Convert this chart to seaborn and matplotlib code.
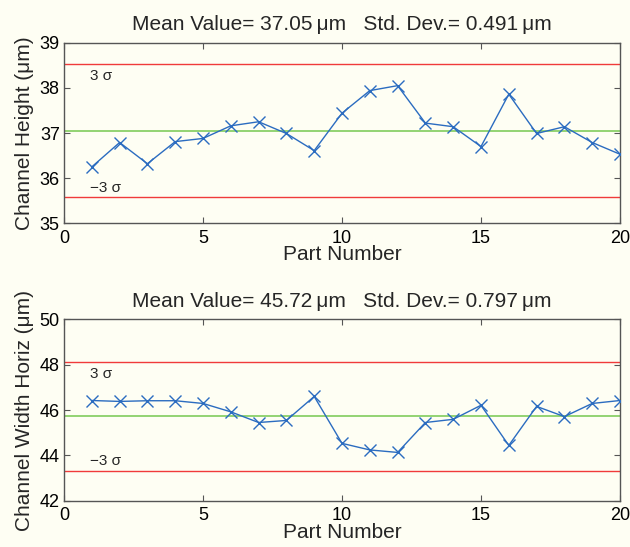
import numpy as np
import pandas as pd
import matplotlib
matplotlib.use('Agg')
import matplotlib.pyplot as plt
import seaborn as sns

# values
parts = list(range(1, 21))
height = [36.25, 36.79, 36.32, 36.81, 36.88, 37.16, 37.25, 36.99, 36.61, 37.44,
          37.94, 38.05, 37.22, 37.14, 36.70, 37.86, 36.99, 37.14, 36.79, 36.53]
width = [46.42, 46.38, 46.41, 46.41, 46.29, 45.92, 45.45, 45.54, 46.60, 44.53,
         44.24, 44.13, 45.45, 45.59, 46.21, 44.44, 46.16, 45.71, 46.29, 46.42]
means = [37.05, 45.72]
stds = [0.491, 0.797]
ylabels = ['Channel Height (\u03bcm)', 'Channel Width Horiz (\u03bcm)']
ylims = [(35, 39), (42, 50)]
yticks = [[35, 36, 37, 38, 39], [42, 44, 46, 48, 50]]
xticks = [0, 5, 10, 15, 20]

BG = '#fefef3'
BLUE = '#2b6cc0'
RED = '#f03a3a'
GREEN = '#80cc5c'

sns.set_theme(style='ticks')
plt.rcParams['font.family'] = ['Liberation Sans', 'DejaVu Sans']
plt.rcParams['axes.edgecolor'] = '#555555'
plt.rcParams['xtick.color'] = '#555555'
plt.rcParams['ytick.color'] = '#555555'
plt.rcParams['xtick.labelcolor'] = 'black'
plt.rcParams['ytick.labelcolor'] = 'black'

fig = plt.figure(figsize=(6.3, 5.47), dpi=100, facecolor=BG)
ax_top = fig.add_axes([0.1016, 0.5918, 0.8825, 0.330])
ax_bot = fig.add_axes([0.1016, 0.0846, 0.8825, 0.3316])

for ax, vals, m, s, lab, lim, yt in zip([ax_top, ax_bot], [height, width], means, stds,
                                         ylabels, ylims, yticks):
    ax.set_facecolor(BG)
    df = pd.DataFrame({'part': parts, 'value': vals})
    upper = m + 3 * s
    lower = m - 3 * s
    ax.axhline(upper, color=RED, lw=1.0, zorder=1)
    ax.axhline(lower, color=RED, lw=1.0, zorder=1)
    ax.axhline(m, color=GREEN, lw=1.2, zorder=1)
    sns.lineplot(data=df, x='part', y='value', ax=ax, color=BLUE, lw=1.0,
                 marker='x', markersize=9, markeredgewidth=1.0,
                 markeredgecolor=BLUE, zorder=3)
    ax.annotate('3 \u03c3', xy=(0.95, upper), xytext=(0, -8.5), textcoords='offset points',
                ha='left', va='center', fontsize=11)
    ax.annotate('\u22123 \u03c3', xy=(0.95, lower), xytext=(0, 7), textcoords='offset points',
                ha='left', va='center', fontsize=11)
    ax.set_xlim(0, 20)
    ax.set_ylim(*lim)
    ax.set_xticks(xticks)
    ax.set_yticks(yt)
    ax.tick_params(direction='in', top=True, right=True, length=4, width=0.8,
                   labelsize=13)
    ax.tick_params(axis='x', pad=4.5)
    ax.tick_params(axis='y', pad=3)
    for sp in ax.spines.values():
        sp.set_linewidth(1.0)
    ax.set_xlabel('Part Number', fontsize=15, labelpad=-1)
    ax.set_ylabel(lab, fontsize=15, labelpad=4)
    ax.set_title('Mean Value= %.2f\u2009\u03bcm   Std. Dev.= %.3f\u2009\u03bcm' % (m, s),
                 fontsize=15, pad=9)

fig.savefig('out.png', dpi=100, facecolor=BG)
